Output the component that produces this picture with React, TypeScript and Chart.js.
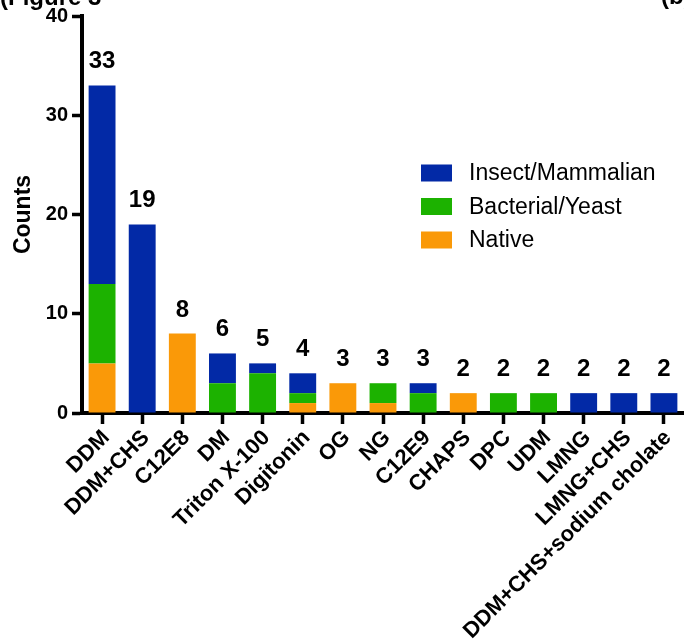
import { useEffect, useRef } from "react";
import { Chart, registerables } from "chart.js";

Chart.register(...registerables);

const detergents = [
  "DDM",
  "DDM+CHS",
  "C12E8",
  "DM",
  "Triton X-100",
  "Digitonin",
  "OG",
  "NG",
  "C12E9",
  "CHAPS",
  "DPC",
  "UDM",
  "LMNG",
  "LMNG+CHS",
  "DDM+CHS+sodium cholate",
];
const insectMammalian = [20, 19, 0, 3, 1, 2, 0, 0, 1, 0, 0, 0, 2, 2, 2];
const bacterialYeast = [8, 0, 0, 3, 4, 1, 0, 2, 2, 0, 2, 2, 0, 0, 0];
const native = [5, 0, 8, 0, 0, 1, 3, 1, 0, 2, 0, 0, 0, 0, 0];
const seriesNames = ["Insect/Mammalian", "Bacterial/Yeast", "Native"];
const yMax = 40;
const yStep = 10;

const BLUE = "#0229A6";
const GREEN = "#1CB200";
const ORANGE = "#FA9908";
const FONT = "'Liberation Sans', Arial, Helvetica, sans-serif";

const overlay = {
  id: "overlay",
  afterDraw(chart: any) {
    const ctx = chart.ctx;
    const xs = chart.scales.x;
    const ys = chart.scales.y;
    ctx.save();
    ctx.fillStyle = "#000";

    // stack totals above each bar
    ctx.font = `bold 24px ${FONT}`;
    ctx.textAlign = "center";
    ctx.textBaseline = "alphabetic";
    detergents.forEach((_, i) => {
      const total = native[i] + bacterialYeast[i] + insectMammalian[i];
      const x = xs.getPixelForValue(i);
      const y = ys.getPixelForValue(total) - 17;
      ctx.fillText(String(total), x, y);
    });

    // legend
    const colors = [BLUE, GREEN, ORANGE];
    ctx.font = `23px ${FONT}`;
    ctx.textAlign = "left";
    ctx.textBaseline = "middle";
    seriesNames.forEach((name, k) => {
      const cy = 173 + k * 33.5;
      ctx.fillStyle = colors[k];
      ctx.fillRect(421, cy - 8.5, 31, 17);
      ctx.fillStyle = "#000";
      ctx.fillText(name, 469, cy + 1);
    });

    // panel headings, clipped by the top edge
    ctx.font = `bold 24px ${FONT}`;
    ctx.textBaseline = "alphabetic";
    ctx.fillText("(Figure 3", 0, 5);
    ctx.fillText("(b)", 661, 4);
    ctx.restore();
  },
};

export default function App() {
  const ref = useRef<HTMLCanvasElement | null>(null);

  useEffect(() => {
    if (!ref.current) return;
    const chart = new Chart(ref.current, {
      type: "bar",
      data: {
        labels: detergents,
        datasets: [
          { label: seriesNames[2], data: native, backgroundColor: ORANGE },
          { label: seriesNames[1], data: bacterialYeast, backgroundColor: GREEN },
          { label: seriesNames[0], data: insectMammalian, backgroundColor: BLUE },
        ],
      },
      options: {
        responsive: false,
        animation: false,
        layout: { padding: { top: 14, right: 0, left: 0, bottom: 0 } },
        datasets: {
          bar: { barPercentage: 0.67, categoryPercentage: 1, borderWidth: 0 },
        },
        plugins: {
          legend: { display: false },
          tooltip: { enabled: false },
        },
        scales: {
          x: {
            stacked: true,
            offset: true,
            grid: {
              display: true,
              offset: false,
              drawOnChartArea: false,
              drawTicks: true,
              tickLength: 11,
              tickWidth: 3.5,
              tickColor: "#000",
            },
            border: { display: true, width: 4, color: "#000" },
            ticks: {
              color: "#000",
              font: { family: FONT, size: 22, weight: "bold" },
              maxRotation: 45,
              minRotation: 45,
              autoSkip: false,
              padding: 1,
              labelOffset: 4,
            },
            afterFit: (s: any) => {
              s.height = 226;
            },
          },
          y: {
            stacked: true,
            min: 0,
            max: yMax,
            grid: {
              display: true,
              drawOnChartArea: false,
              drawTicks: true,
              tickLength: 10,
              tickWidth: 3.5,
              tickColor: "#000",
            },
            border: { display: true, width: 4, color: "#000" },
            ticks: {
              stepSize: yStep,
              color: "#000",
              font: { family: FONT, size: 20, weight: "bold" },
              padding: 4,
            },
            title: {
              display: true,
              text: "Counts",
              color: "#000",
              font: { family: FONT, size: 23, weight: "bold" },
              padding: { top: 10, bottom: 0 },
            },
            afterFit: (s: any) => {
              s.width = 82;
            },
          },
        },
      },
      plugins: [overlay],
    });
    return () => chart.destroy();
  }, []);

  return (
    <div style={{ position: "absolute", left: 0, top: 0, width: 684, height: 639, background: "#fff" }}>
      <canvas ref={ref} width={684} height={639} style={{ display: "block" }} />
    </div>
  );
}
